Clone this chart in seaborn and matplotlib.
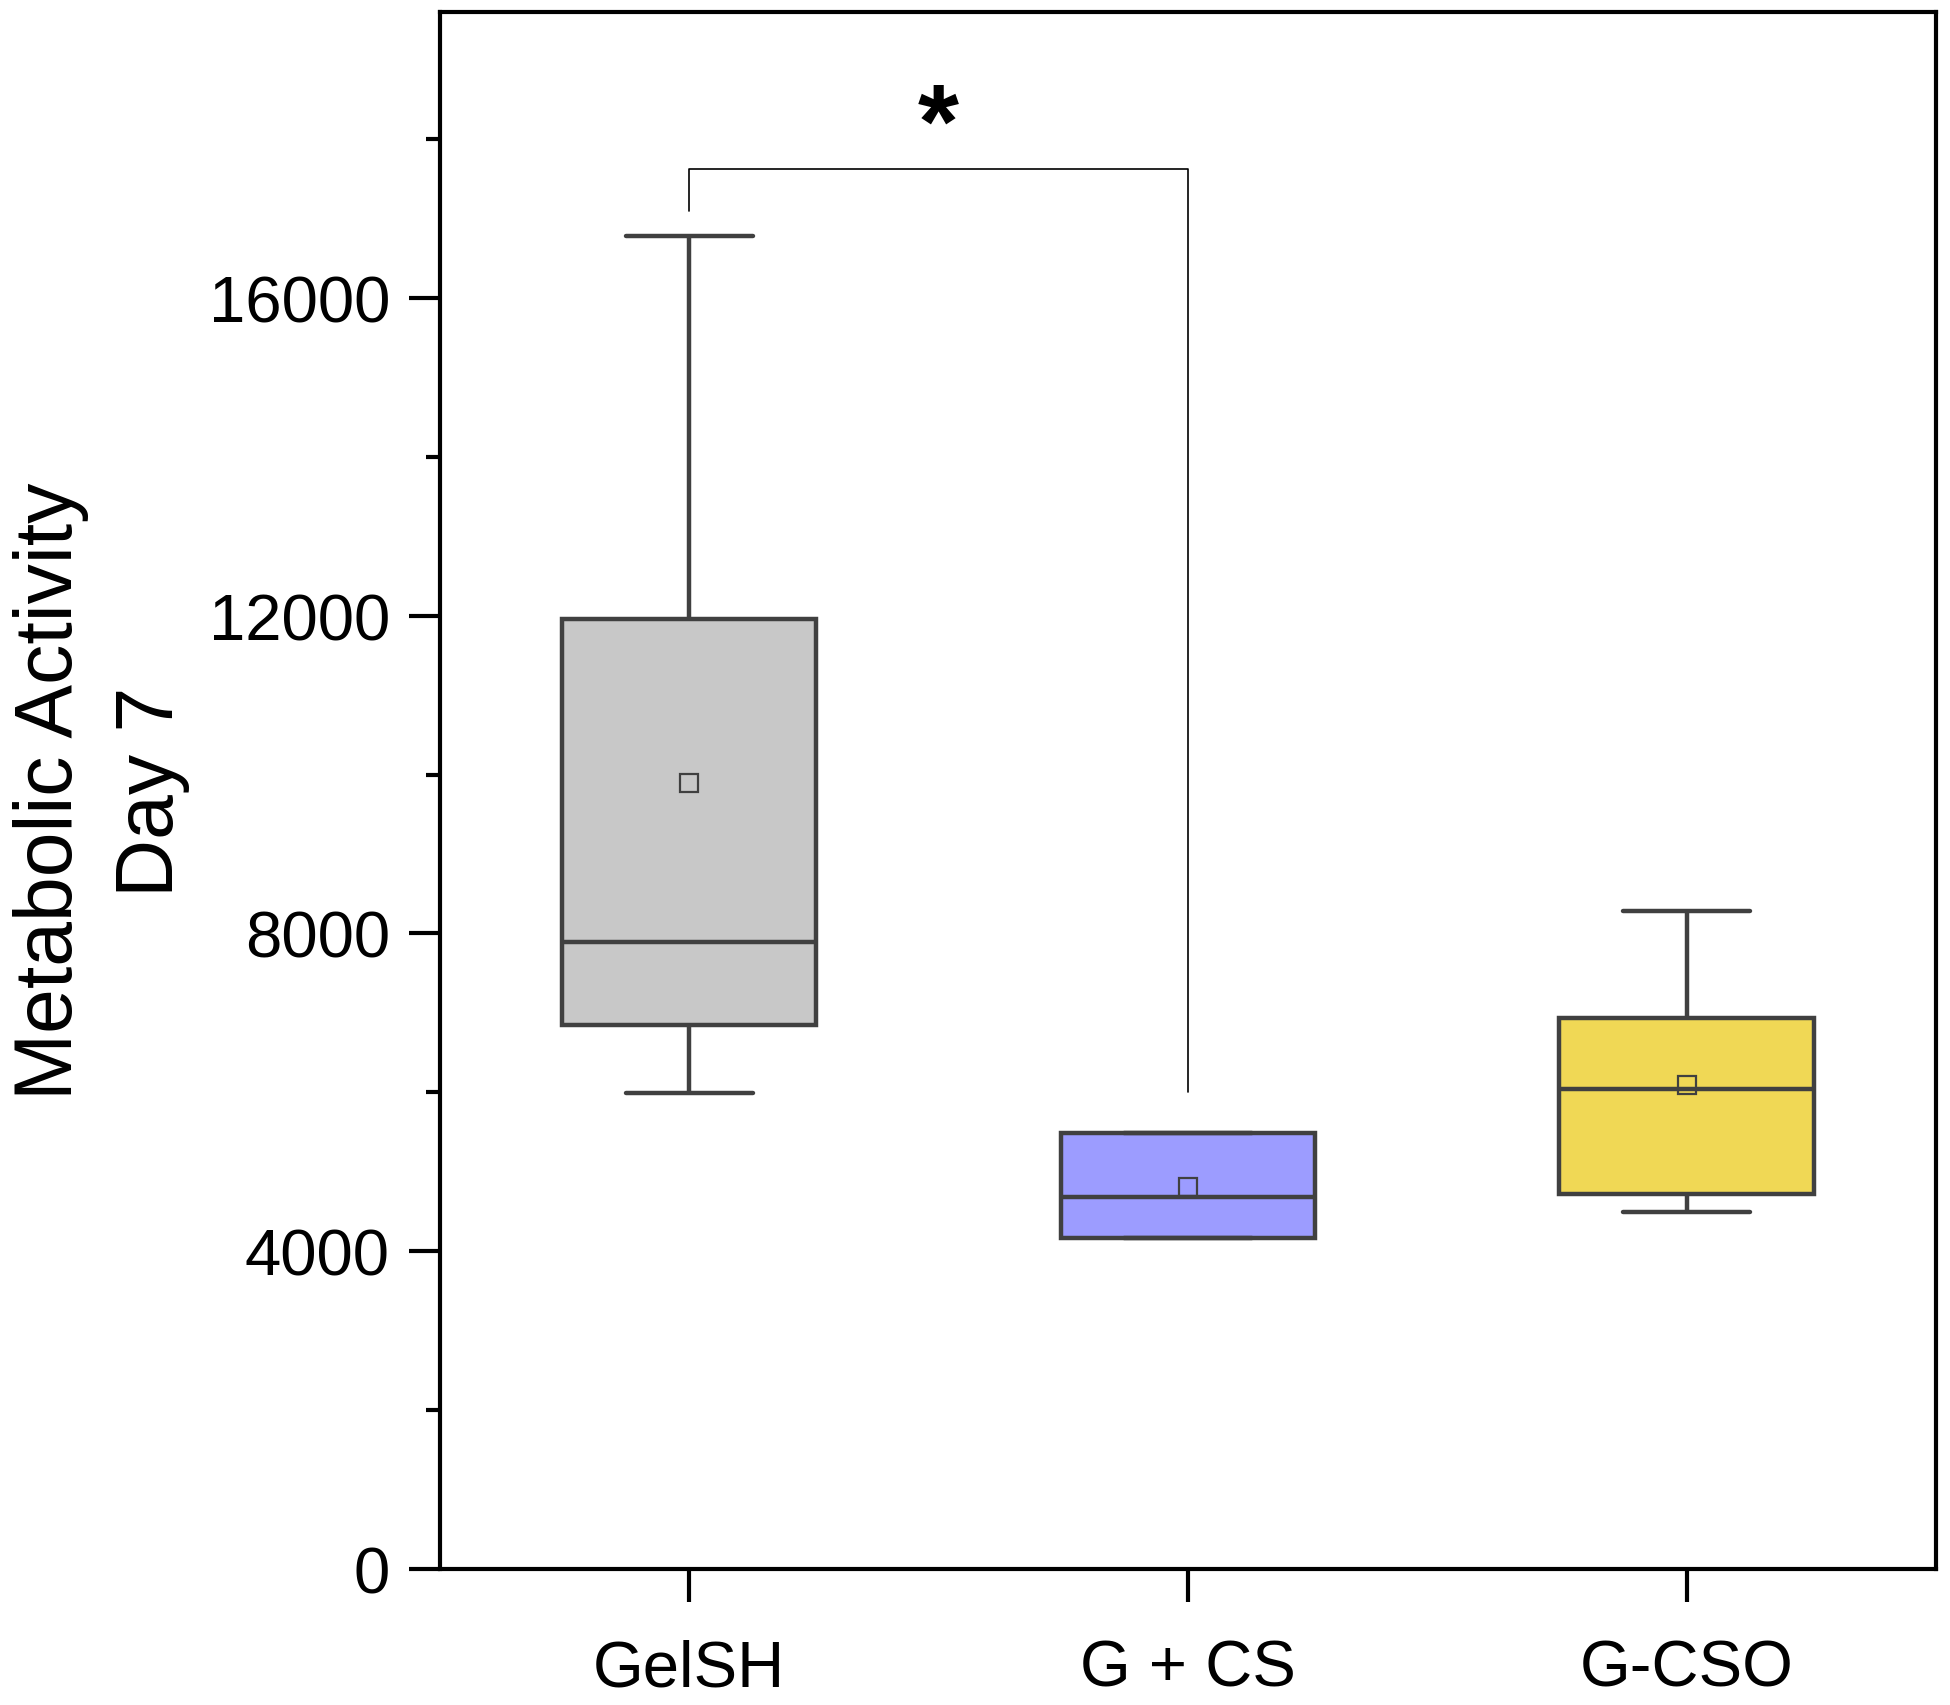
import numpy as np
import pandas as pd
import matplotlib
matplotlib.use("Agg")
import matplotlib.pyplot as plt
from matplotlib.ticker import MultipleLocator
import seaborn as sns

# groups and the 5 readings per group
groups = ["GelSH", "G + CS", "G-CSO"]
gelsh = [5992, 6848, 7891, 11953, 16778]
g_cs = [4171, 4171, 4685, 5494, 5494]
g_cso = [4498, 4716, 6039, 6942, 8280]
colors = ["#C8C8C8", "#9C9CFF", "#F0D855"]

# significance bracket GelSH vs G + CS
sig_pair = ("GelSH", "G + CS")
sig_top = 17620
sig_left_end = 17100
sig_right_end = 6000
sig_text = "*"

df = pd.DataFrame({
    "group": [groups[0]] * len(gelsh) + [groups[1]] * len(g_cs) + [groups[2]] * len(g_cso),
    "value": gelsh + g_cs + g_cso,
})

sns.set_style("ticks")
plt.rcParams["font.family"] = ["Liberation Sans", "DejaVu Sans"]
plt.rcParams["text.color"] = "black"
plt.rcParams["axes.labelcolor"] = "black"
plt.rcParams["xtick.color"] = "black"
plt.rcParams["ytick.color"] = "black"

fig = plt.figure(figsize=(19.5, 17.06), dpi=100)
ax = fig.add_axes([0.2256, 0.0797, 0.7672, 0.9127])

sns.boxplot(data=df, x="group", y="value", hue="group", order=groups,
            palette=colors, saturation=1, legend=False, width=0.51,
            whis=(0, 100), linecolor="#404040", linewidth=3.2,
            showmeans=True, ax=ax,
            meanprops=dict(marker="s", markerfacecolor="none",
                           markeredgecolor="#404040", markersize=13,
                           markeredgewidth=1.6))

# bracket
x0 = groups.index(sig_pair[0])
x1 = groups.index(sig_pair[1])
ax.plot([x0, x0, x1, x1], [sig_left_end, sig_top, sig_top, sig_right_end],
        color="black", lw=1.2)
ax.text((x0 + x1) / 2, sig_top - 120, sig_text, ha="center", va="bottom",
        fontsize=76, fontweight="bold")

ax.set_xlim(-0.5, 2.5)
ax.set_ylim(0, 19600)
ax.yaxis.set_major_locator(MultipleLocator(4000))
ax.yaxis.set_minor_locator(MultipleLocator(2000))

for s in ax.spines.values():
    s.set_visible(True)
    s.set_linewidth(3)
    s.set_color("black")

ax.tick_params(axis="y", which="major", length=22, width=3, pad=14,
               labelsize=47, direction="out", right=False)
ax.tick_params(axis="y", which="minor", length=10, width=3, right=False)
ax.tick_params(axis="x", which="major", length=24, width=3, pad=26,
               labelsize=47, direction="out", top=False)

ax.set_xlabel("")
ax.set_ylabel("Metabolic Activity\nDay 7", fontsize=58, labelpad=13,
              linespacing=1.43)

fig.savefig("out.png", dpi=100, facecolor="white")
